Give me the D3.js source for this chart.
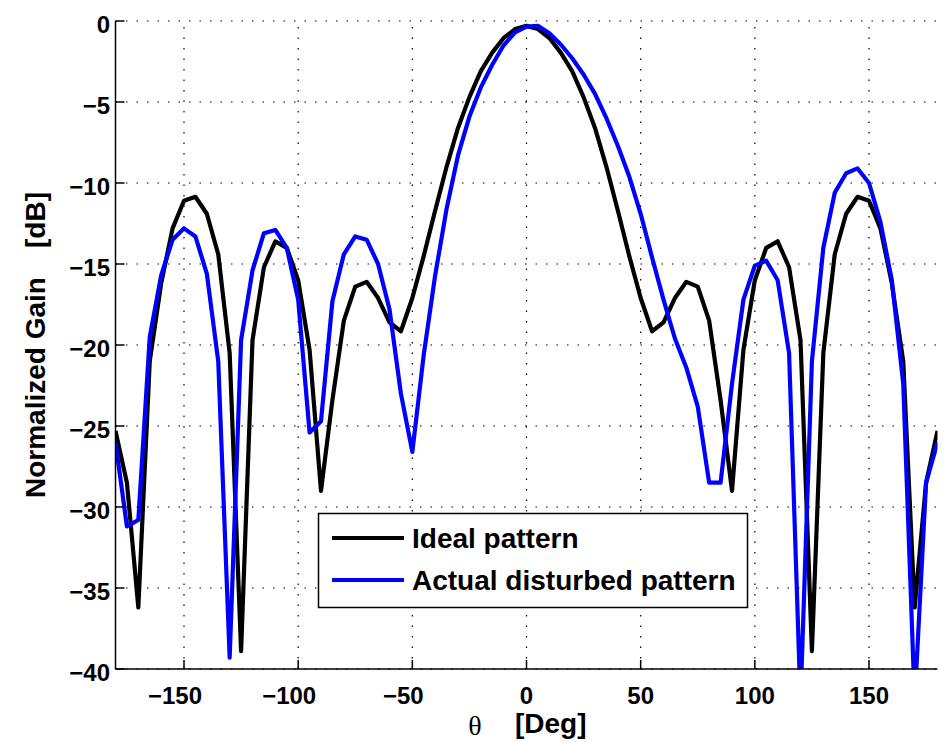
<!DOCTYPE html>
<meta charset="utf-8">
<script src="https://d3js.org/d3.v7.min.js"></script>
<style>
  body { margin: 0; background: #fff; }
  text { font-family: "Liberation Sans", Arial, sans-serif; font-weight: bold; }
</style>
<svg id="chart" width="944" height="742"></svg>
<script>
// angle samples (deg)
const theta = [-180,-175,-170,-165,-160,-155,-150,-145,-140,-135,-130,-125,-120,-115,-110,-105,-100,-95,-90,-85,-80,-75,-70,-65,-60,-55,-50,-45,-40,-35,-30,-25,-20,-15,-10,-5,
  0,5,10,15,20,25,30,35,40,45,50,55,60,65,70,75,80,85,90,95,100,105,110,115,120,125,130,135,140,145,150,155,160,165,170,175,180];

// ideal pattern (dB)
const ideal = [-25.3,-28.5,-36.2,-21.0,-16.2,-12.8,-11.1,-10.85,-11.9,-14.4,-20.5,-38.9,-19.7,-15.2,-13.6,-14.0,-16.0,-20.3,-29.0,-23.4,-18.5,-16.4,-16.1,-17.1,-18.6,-19.15,-17.1,-14.5,-11.7,-9.0,-6.6,-4.7,-3.1,-1.95,-1.05,-0.5,
  -0.3,-0.5,-1.05,-1.95,-3.1,-4.7,-6.6,-9.0,-11.7,-14.5,-17.1,-19.15,-18.6,-17.1,-16.1,-16.4,-18.5,-23.4,-29.0,-20.3,-16.0,-14.0,-13.6,-15.2,-19.7,-38.9,-20.5,-14.4,-11.9,-10.85,-11.1,-12.8,-16.2,-21.0,-36.2,-28.5,-25.3];

// actual disturbed pattern (dB)
const actual = [-26.0,-31.2,-30.8,-19.5,-15.7,-13.5,-12.8,-13.3,-15.6,-21.0,-39.3,-19.7,-15.4,-13.1,-12.9,-14.0,-17.2,-25.4,-24.7,-17.3,-14.4,-13.3,-13.5,-15.0,-17.8,-23.0,-26.6,-20.6,-15.7,-11.6,-8.3,-5.9,-4.1,-2.7,-1.5,-0.7,
  -0.35,-0.3,-0.75,-1.45,-2.3,-3.3,-4.5,-6.0,-7.7,-9.6,-11.9,-14.6,-17.2,-19.6,-21.4,-23.8,-28.5,-28.5,-22.4,-17.2,-15.1,-14.8,-16.0,-20.5,-42.0,-21.0,-14.0,-10.6,-9.4,-9.1,-10.0,-12.4,-16.0,-22.4,-42.0,-28.5,-26.0];

const xTicks = [-150,-100,-50,0,50,100,150];
const yTicks = [0,-5,-10,-15,-20,-25,-30,-35,-40];
const seriesNames = ["Ideal pattern", "Actual disturbed pattern"];
const seriesColors = ["#000000", "#0000ff"];

const svg = d3.select("#chart");
const pLeft = 115.5, pRight = 937.5, pTop = 21, pBottom = 669;

const x = d3.scaleLinear().domain([-180, 180]).range([pLeft, pRight]);
const y = d3.scaleLinear().domain([-40, 0]).range([pBottom, pTop]);

const fmt = d => d < 0 ? "\u2212" + Math.abs(d) : String(d);

// grid
const grid = svg.append("g")
  .attr("stroke", "#000")
  .attr("stroke-width", 1.2)
  .attr("stroke-dasharray", "1.5,9");
grid.selectAll(".gx").data(xTicks).enter().append("line")
  .attr("x1", d => x(d)).attr("x2", d => x(d))
  .attr("y1", pBottom).attr("y2", pTop);
grid.selectAll(".gy").data(yTicks).enter().append("line")
  .attr("x1", pLeft).attr("x2", pRight)
  .attr("y1", d => y(d)).attr("y2", d => y(d));

// clip for curves
svg.append("clipPath").attr("id", "plotclip")
  .append("rect").attr("x", pLeft).attr("y", pTop - 5).attr("width", pRight - pLeft).attr("height", pBottom - pTop + 5);

const line = d3.line()
  .x((d, i) => x(theta[i]))
  .y(d => y(d));

const curves = svg.append("g").attr("clip-path", "url(#plotclip)");
[ideal, actual].forEach((s, k) => {
  curves.append("path")
    .datum(s)
    .attr("d", line)
    .attr("fill", "none")
    .attr("stroke", seriesColors[k])
    .attr("stroke-width", 4.2)
    .attr("stroke-linejoin", "round");
});

// axes lines
svg.append("line").attr("x1", pLeft).attr("x2", pLeft).attr("y1", pTop).attr("y2", pBottom)
  .attr("stroke", "#000").attr("stroke-width", 1.5);
svg.append("line").attr("x1", pLeft).attr("x2", pRight).attr("y1", pBottom).attr("y2", pBottom)
  .attr("stroke", "#000").attr("stroke-width", 1.5);

// tick marks (inward)
svg.selectAll(".tx").data(xTicks).enter().append("line")
  .attr("x1", d => x(d)).attr("x2", d => x(d))
  .attr("y1", pBottom).attr("y2", pBottom - 9)
  .attr("stroke", "#000").attr("stroke-width", 1.5);
svg.selectAll(".ty").data(yTicks).enter().append("line")
  .attr("x1", pLeft).attr("x2", pLeft + 9)
  .attr("y1", d => y(d)).attr("y2", d => y(d))
  .attr("stroke", "#000").attr("stroke-width", 1.5);

// tick labels
svg.selectAll(".lx").data(xTicks).enter().append("text")
  .attr("x", d => x(d))
  .attr("dx", d => d < 0 ? -9 : 0)
  .attr("y", 704)
  .attr("text-anchor", "middle")
  .attr("font-size", 24)
  .text(fmt);
svg.selectAll(".ly").data(yTicks).enter().append("text")
  .attr("x", 110)
  .attr("y", d => y(d) + 12)
  .attr("text-anchor", "end")
  .attr("font-size", 24)
  .text(fmt);

// axis titles
svg.append("text")
  .attr("x", 475).attr("y", 735)
  .attr("text-anchor", "middle")
  .style("font-family", "'Liberation Serif', 'Times New Roman', serif")
  .style("font-weight", "normal")
  .attr("font-size", 28)
  .text("\u03b8");
svg.append("text")
  .attr("x", 515).attr("y", 733)
  .attr("font-size", 28)
  .text("[Deg]");

svg.append("text")
  .attr("transform", "translate(45,498) rotate(-90)")
  .attr("font-size", 28)
  .text("Normalized Gain");
svg.append("text")
  .attr("transform", "translate(45,192) rotate(-90)")
  .attr("text-anchor", "end")
  .attr("font-size", 28)
  .text("[dB]");

// legend
const lg = svg.append("g");
lg.append("rect")
  .attr("x", 318.5).attr("y", 513.5).attr("width", 429).attr("height", 94)
  .attr("fill", "#fff").attr("stroke", "#000").attr("stroke-width", 1.5);
seriesNames.forEach((name, k) => {
  const ly = 538 + k * 42;
  lg.append("line")
    .attr("x1", 332).attr("x2", 404).attr("y1", ly).attr("y2", ly)
    .attr("stroke", seriesColors[k]).attr("stroke-width", 4.2);
  lg.append("text")
    .attr("x", 412).attr("y", ly + 10)
    .attr("font-size", 28)
    .text(name);
});
</script>
